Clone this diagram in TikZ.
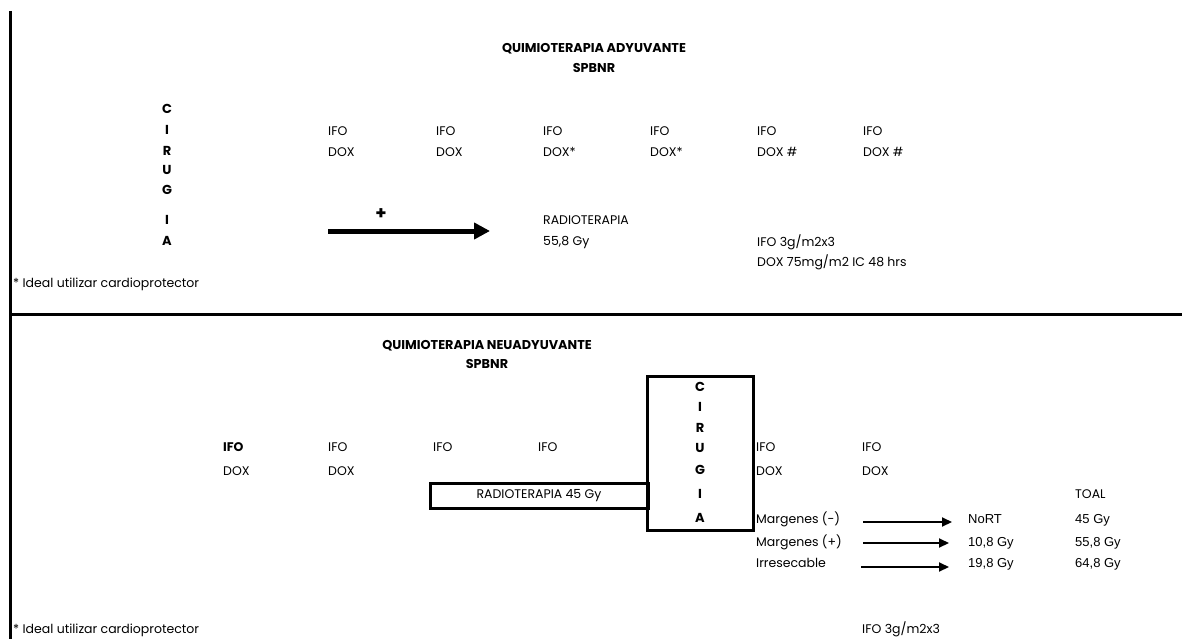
\documentclass[tikz,border=0pt]{standalone}
\usepackage{fontspec}
\setmainfont{Poppins}
\newfontfamily\arialfont{Liberation Sans}
\usetikzlibrary{arrows.meta}

\begin{document}
\begin{tikzpicture}[
  x=1pt, y=-1pt,
  cell/.style={anchor=west, inner sep=0pt, font=\fontsize{12.5}{14}\selectfont,
    text height=8.8pt, text depth=0pt},
  bcell/.style={cell, font=\fontsize{12.5}{14}\selectfont\bfseries},
  num/.style={cell, font=\arialfont\fontsize{13}{15}\selectfont},
  head/.style={inner sep=0pt, font=\fontsize{12.8}{14}\selectfont\bfseries,
    text height=9pt, text depth=0pt},
  letter/.style={inner sep=0pt, font=\fontsize{13}{14}\selectfont\bfseries,
    text height=9.2pt, text depth=0pt},
  frame/.style={draw=black, line width=3pt},
  box/.style={draw=black, line width=3pt, inner sep=0pt},
  bigarrow/.style={line width=5pt, -{Triangle[length=16pt, width=16pt]}},
  smallarrow/.style={line width=2pt, -{Triangle[length=10pt, width=9pt]}}
]
  \useasboundingbox (0,0) rectangle (1182,639);

  % ── Marco ────────────────────────────────────────────────────
  \draw[frame] (10.5,11) -- (10.5,639);
  \draw[frame] (9,314.5) -- (1182,314.5);

  % ── Adyuvante ────────────────────────────────────────────────
  \node[head] (titA) at (594,48) {QUIMIOTERAPIA ADYUVANTE};
  \node[head] (spbA) at (594,68) {SPBNR};

  \foreach \l/\y [count=\i] in {C/109, I/130, R/151, U/170, G/190, I/220, A/241} {
    \node[letter] (cirA\i) at (167,\y) {\l};
  }

  \foreach \x/\d [count=\i] in {328/DOX, 436/DOX, 543/DOX*, 650/DOX*, 757/DOX \#, 863/DOX \#} {
    \node[cell] (ifoA\i) at (\x,131) {IFO};
    \node[cell] (doxA\i) at (\x,152) {\d};
  }

  \node[letter, font=\fontsize{18}{18}\selectfont\bfseries] (plus) at (381,215) {+};
  \coordinate (arrA) at (328,231);
  \coordinate (arrB) at (490,231);
  \draw[bigarrow] (arrA) -- (arrB);

  \node[cell] (rtA)  at (543,220) {RADIOTERAPIA};
  \node[cell] (gyA)  at (543,241) {55,8 Gy};
  \node[cell] (dosA) at (757,242) {IFO 3g/m2x3};
  \node[cell] (dosB) at (757,262) {DOX 75mg/m2 IC 48 hrs};
  \node[cell] (notA) at (13,283) {* Ideal utilizar cardioprotector};

  % ── Neoadyuvante ─────────────────────────────────────────────
  \node[head] (titB) at (487,345) {QUIMIOTERAPIA NEUADYUVANTE};
  \node[head] (spbB) at (487,364) {SPBNR};

  \node[bcell] (ifoB1) at (223,447) {IFO};
  \node[cell]  (doxB1) at (223,471) {DOX};
  \node[cell]  (ifoB2) at (328,447) {IFO};
  \node[cell]  (doxB2) at (328,471) {DOX};
  \node[cell]  (ifoB3) at (433,447) {IFO};
  \node[cell]  (ifoB4) at (538,447) {IFO};

  \node[box, minimum width=218pt, minimum height=25pt,
        font=\fontsize{12.5}{14}\selectfont] (rtB) at (539,495.5) {RADIOTERAPIA 45 Gy};
  \node[box, minimum width=106pt, minimum height=154pt] (cirB) at (700,453) {};
  \foreach \l/\y [count=\i] in {C/387, I/407, R/428, U/448, G/470, I/494, A/518} {
    \node[letter] (cirB\i) at (700,\y) {\l};
  }

  \node[cell] (ifoB5) at (756,447) {IFO};
  \node[cell] (doxB5) at (756,471) {DOX};
  \node[cell] (ifoB6) at (862,447) {IFO};
  \node[cell] (doxB6) at (862,471) {DOX};

  \node[cell] (mneg) at (756,519) {Margenes (-)};
  \node[cell] (mpos) at (756,542) {Margenes (+)};
  \node[cell] (irre) at (756,563) {Irresecable};

  \node[num] (nort) at (968,519) {NoRT};
  \node[num] (boA)  at (968,542) {10,8 Gy};
  \node[num] (boB)  at (968,563) {19,8 Gy};

  \node[cell] (toal) at (1075,494) {TOAL};
  \node[num]  (totA) at (1075,519) {45 Gy};
  \node[num]  (totB) at (1075,542) {55,8 Gy};
  \node[num]  (totC) at (1075,563) {64,8 Gy};

  \foreach \y/\s/\e in {522/863/952, 543/863/949, 567/861/949} {
    \coordinate (s\y) at (\s,\y);
    \coordinate (e\y) at (\e,\y);
    \draw[smallarrow] (s\y) -- (e\y);
  }

  \node[cell] (dosC) at (862,629) {IFO 3g/m2x3};
  \node[cell] (notB) at (13,629) {* Ideal utilizar cardioprotector};

\end{tikzpicture}
\end{document}
